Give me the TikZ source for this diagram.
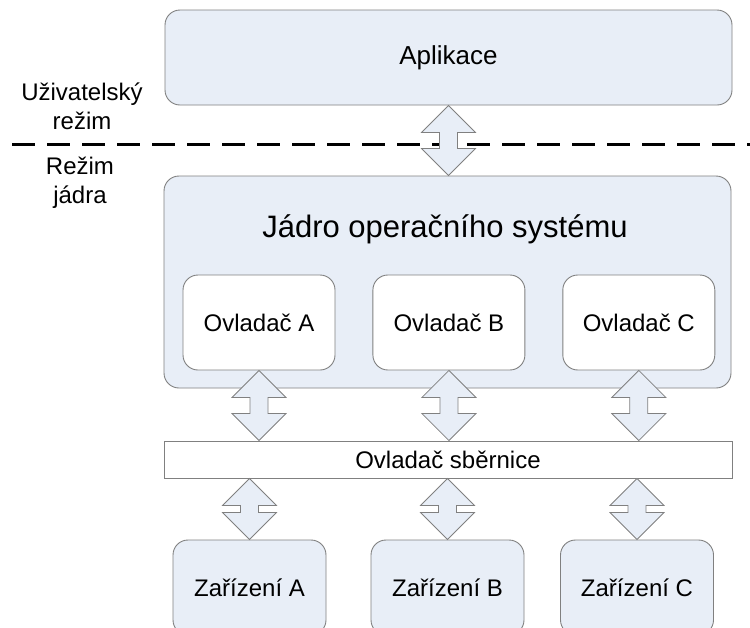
\documentclass[tikz,border=0pt]{standalone}
\usepackage{fontspec}
\setmainfont{Liberation Sans}
\usetikzlibrary{positioning,calc}

\definecolor{boxfill}{RGB}{232,238,247}
\definecolor{boxline}{RGB}{128,128,128}

\begin{document}
\begin{tikzpicture}[x=1pt,y=-1pt,
    box/.style={draw=boxline,fill=boxfill,rounded corners=15pt,line width=0.9pt,inner sep=0pt},
    drv node/.style={box,fill=white,minimum width=152pt,minimum height=95pt,font=\fontsize{24}{29}\selectfont},
    dev node/.style={box,minimum width=153pt,minimum height=95pt,font=\fontsize{24}{29}\selectfont},
    dbl arrow/.style={draw=boxline,fill=boxfill,line width=0.8pt,
      to path={let \p1=(\tikztostart), \p2=(\tikztotarget) in
        (\x1,\y1) -- (\x1+27pt,\y1-27pt) -- (\x1+9pt,\y1-27pt) -- (\x1+9pt,\y2+27pt)
        -- (\x1+27pt,\y2+27pt) -- (\x1,\y2) -- (\x1-27pt,\y2+27pt) -- (\x1-9pt,\y2+27pt)
        -- (\x1-9pt,\y1-27pt) -- (\x1-27pt,\y1-27pt) -- cycle}}]

  \useasboundingbox (0,0) rectangle (750,627);
  \clip (0,0) rectangle (750,627);

  % user mode / kernel mode
  \coordinate (sepL) at (12,144);
  \coordinate (sepR) at (750,144);
  \draw[line width=3pt,dash pattern=on 23pt off 12pt] (sepL) -- (sepR);
  \node[align=center,font=\fontsize{24}{29}\selectfont] (user) at (82,106) {Uživatelský\\režim};
  \node[align=center,font=\fontsize{24}{29}\selectfont] (kmode) at (80,183) {Režim\\jádra};

  \node[box,minimum width=567pt,minimum height=95pt,font=\fontsize{26}{31}\selectfont] (app) at (448.5,57.5) {Aplikace};
  \node[box,minimum width=567pt,minimum height=212pt] (kernel) at (447.5,282) {};
  \node[font=\fontsize{31}{37}\selectfont] (title) at (445,229) {Jádro operačního systému};

  \node[drv node] (drvA) at (259,322.5) {Ovladač A};
  \node[drv node,right=37pt of drvA] (drvB) {Ovladač B};
  \node[drv node,right=37pt of drvB] (drvC) {Ovladač C};

  \node[draw=boxline,fill=white,line width=0.9pt,minimum width=568pt,minimum height=37pt,
        font=\fontsize{24}{29}\selectfont] (bus) at (448,459.5) {Ovladač sběrnice};

  \node[dev node] (devA) at (249.5,587.5) {Zařízení A};
  \node[dev node] (devB) at (447.5,587.5) {Zařízení B};
  \node[dev node] (devC) at (637,587.5) {Zařízení C};

  \path
    (app.south) edge[dbl arrow] (kernel.north)
    (drvA.south) edge[dbl arrow] (drvA.south |- bus.north)
    (drvB.south) edge[dbl arrow] (drvB.south |- bus.north)
    (drvC.south) edge[dbl arrow] (drvC.south |- bus.north)
    (bus.south -| devA.north) edge[dbl arrow] (devA.north)
    (bus.south -| devB.north) edge[dbl arrow] (devB.north)
    (bus.south -| devC.north) edge[dbl arrow] (devC.north);
\end{tikzpicture}
\end{document}
